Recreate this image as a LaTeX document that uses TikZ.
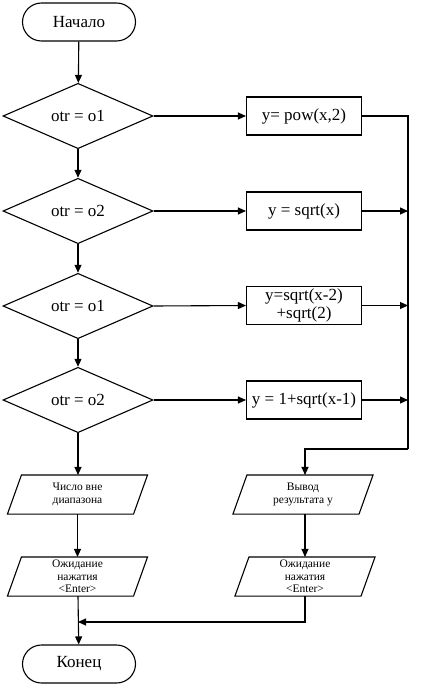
\documentclass[tikz,border=0pt]{standalone}
\usepackage{fontspec}
\setmainfont{Liberation Serif}
\usetikzlibrary{shapes.geometric,arrows.meta}
\begin{document}
\begin{tikzpicture}[x=1pt,y=-1pt,
  line width=1.1pt,
  arr/.style={-{Triangle[length=8pt,width=7pt]}},
  term/.style={draw,rectangle,rounded corners=19pt,minimum width=113pt,minimum height=38pt,inner sep=0pt,font=\fontsize{17}{19}\selectfont},
  dec/.style={draw,diamond,minimum width=150pt,minimum height=57pt,inner sep=0pt,font=\fontsize{17}{19}\selectfont},
  proc/.style={draw,rectangle,minimum width=115pt,minimum height=38pt,inner sep=0pt,align=center,font=\fontsize{17}{19}\selectfont},
  iobox/.style={rectangle,minimum width=125pt,minimum height=38pt,inner sep=0pt,align=center,font=\fontsize{11.5}{13}\selectfont}
]
\useasboundingbox (0,0) rectangle (438,687);

\node[term] (start) at (79,22) {Начало};
\node[dec] (d1) at (78,116) {otr = o1};
\node[dec] (d2) at (78,211) {otr = o2};
\node[dec] (d3) at (78,306) {otr = o1};
\node[dec] (d4) at (78,400) {otr = o2};

\node[proc] (b1) at (304,116) {y= pow(x,2)};
\node[proc] (b2) at (304,211) {y = sqrt(x)};
\node[proc,font=\fontsize{17}{17.5}\selectfont] (b3) at (304,305.5) {y=sqrt(x-2)\\+sqrt(2)};
\node[proc] (b4) at (304,400) {y = 1+sqrt(x-1)};

\node[iobox] (err) at (77.5,494.5) {Число вне\\диапазона};
\node[iobox,font=\fontsize{11.5}{12.5}\selectfont] (wl) at (77.5,576.5) {Ожидание\\нажатия\\\textless Enter\textgreater};
\node[iobox] (out) at (303,494.5) {Вывод\\результата у};
\node[iobox,font=\fontsize{11.5}{12.5}\selectfont] (wr) at (305,576.5) {Ожидание\\нажатия\\\textless Enter\textgreater};

\foreach \n in {err,wl,out,wr}{
  \draw ([xshift=7pt]\n.north west) -- ([xshift=7pt]\n.north east) -- ([xshift=-7pt]\n.south east) -- ([xshift=-7pt]\n.south west) -- cycle;
}

\node[term] (end) at (79,664) {Конец};

\coordinate (bus1) at (408,116);
\coordinate (bus2) at (408,211);
\coordinate (bus3) at (408,305.5);
\coordinate (bus4) at (408,400);
\coordinate (busend) at (408,449);
\coordinate (join) at (78,622);

\draw[arr] (start) -- (d1);
\draw[arr] (d1) -- (d2);
\draw[arr] (d2) -- (d3);
\draw[arr] (d3) -- (d4);
\draw[arr] (d4) -- (d4 |- err.north);
\draw[arr] (err) -- (err |- wl.north);
\draw[arr] (wl.south -| join) -- (end);

\draw[arr] (d1.east) -- (b1.west);
\draw[arr] (d2.east) -- (b2.west);
\draw[arr] (d3.east) -- (b3.west);
\draw[arr] (d4.east) -- (b4.west);

\draw (b1.east) -- (bus1) -- (busend);
\draw[arr] (b2.east) -- (bus2);
\draw[arr] (b3.east) -- (bus3);
\draw[arr] (b4.east) -- (bus4);
\draw[arr] (busend) -| ([xshift=2pt]out.north);
\draw[arr] ([xshift=2pt]out.south) -- ([xshift=2pt]out.south |- wr.north);
\draw[arr] (wr.south) |- (join);
\end{tikzpicture}
\end{document}
